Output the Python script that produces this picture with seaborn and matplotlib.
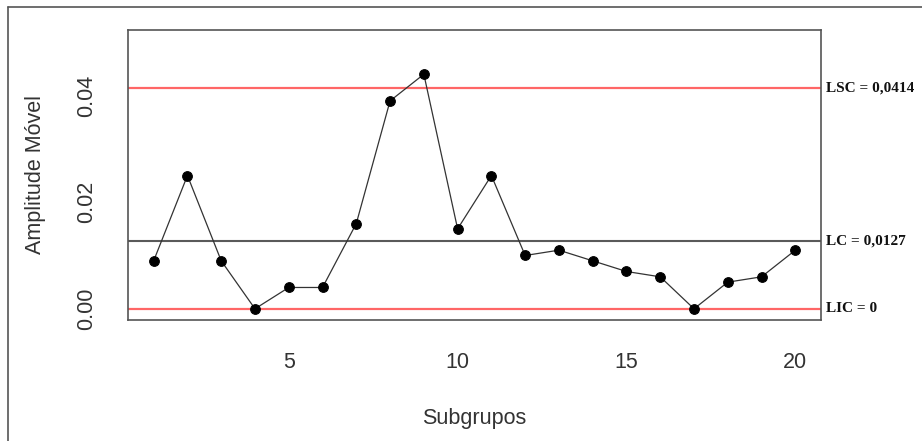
import matplotlib
matplotlib.use("Agg")
import matplotlib.pyplot as plt
import seaborn as sns
import pandas as pd
from matplotlib.lines import Line2D
from matplotlib import transforms

subgrupos = list(range(1, 21))
amplitude = [0.009, 0.025, 0.009, 0.000, 0.004, 0.004, 0.016, 0.039, 0.044, 0.015,
             0.025, 0.010, 0.011, 0.009, 0.007, 0.006, 0.000, 0.005, 0.006, 0.011]
lsc = 0.0414
lc = 0.0127
lic = 0.0
limit_labels = ["LSC = 0,0414", "LC = 0,0127", "LIC = 0"]
x_ticks = [5, 10, 15, 20]
y_ticks = [0.00, 0.01, 0.02, 0.03, 0.04, 0.05]
y_ticklabels = ["0.00", "", "0.02", "", "0.04", ""]

sns.set_style("white")
plt.rcParams["font.family"] = ["Liberation Sans", "DejaVu Sans"]

df = pd.DataFrame({"Subgrupos": subgrupos, "Amplitude": amplitude})

fig = plt.figure(figsize=(9.22, 4.41), dpi=100)
ax = fig.add_axes([128 / 922, 1 - 320 / 441, 693 / 922, 290 / 441])

ax.axhline(lsc, color="#ff6666", lw=1.6, zorder=1)
ax.axhline(lic, color="#ff6666", lw=1.6, zorder=1)
ax.axhline(lc, color="#5a5a5a", lw=1.5, zorder=1)

sns.lineplot(data=df, x="Subgrupos", y="Amplitude", ax=ax, color="#333333",
             lw=0.9, marker="o", markersize=7, markerfacecolor="black",
             markeredgecolor="black", zorder=3)

ax.set_xlim(0.24, 20.76)
ax.set_ylim(-0.0021, 0.0523)
ax.set_xticks(x_ticks)
ax.set_xticklabels([str(t) for t in x_ticks])
ax.set_yticks(y_ticks)
ax.set_yticklabels(y_ticklabels, rotation=90, va="center")

for s in ax.spines.values():
    s.set_color("#555555")
    s.set_linewidth(1.2)
    s.set_visible(True)

ax.tick_params(axis="both", direction="out", length=9, width=1.2,
               color="#555555", labelsize=15.5, labelcolor="#333333")
ax.tick_params(axis="x", pad=14)
ax.tick_params(axis="y", pad=13)
ax.set_xlabel("Subgrupos", fontsize=15.5, color="#333333", labelpad=25)
ax.set_ylabel("Amplitude Móvel", fontsize=15.5, color="#333333", labelpad=22)

trans = transforms.blended_transform_factory(ax.transAxes, ax.transData)
for val, lab in zip([lsc, lc, lic], limit_labels):
    ax.text(1.007, val, lab, transform=trans, ha="left", va="center",
            fontsize=11, fontweight="bold", family=["Liberation Serif", "DejaVu Serif"],
            color="#111111", clip_on=False)

# outer frame (left and top)
fig.add_artist(Line2D([8 / 922, 8 / 922], [0, 1 - 7 / 441], transform=fig.transFigure,
                      color="#555555", lw=1.2))
fig.add_artist(Line2D([8 / 922, 1], [1 - 7 / 441, 1 - 7 / 441], transform=fig.transFigure,
                      color="#555555", lw=1.2))

fig.savefig("out.png", dpi=100)
